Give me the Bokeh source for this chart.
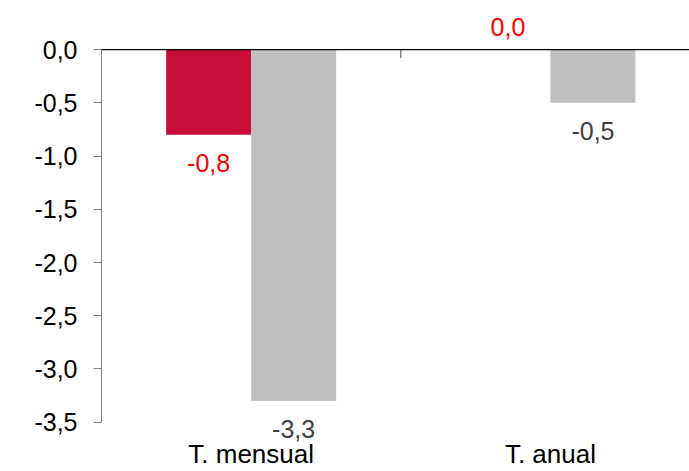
from bokeh.plotting import figure
from bokeh.models import Range1d, FixedTicker, Span, ColumnDataSource
from bokeh.embed import file_html
from bokeh.resources import INLINE
from bokeh.core.properties import value

categories = ["T. mensual", "T. anual"]
series_red = [-0.8, 0.0]
series_gray = [-3.3, -0.5]
y_ticks = [0.0, -0.5, -1.0, -1.5, -2.0, -2.5, -3.0, -3.5]

RED = "#C80D3A"
GRAY = "#BFBFBF"
FONT = "Liberation Sans"

def fmt(v):
    return f"{v:.1f}".replace(".", ",")

Y0, Y1 = -3.7095, 0.461
FRAME_H = 446
p = figure(width=689, height=471, output_backend="svg", toolbar_location=None,
           x_range=Range1d(0, 1.9646), y_range=Range1d(Y0, Y1),
           min_border_left=101, min_border_right=0, min_border_top=0, min_border_bottom=25)
p.outline_line_color = None
p.xgrid.visible = False
p.ygrid.visible = False
p.background_fill_color = "white"
p.border_fill_color = "white"

bar_w = 0.284
off = 0.142
xc = [i + 0.5 for i in range(len(categories))]
x_red = [x - off for x in xc]
x_gray = [x + off for x in xc]

p.vbar(x=x_red, top=series_red, bottom=0, width=bar_w, fill_color=RED, line_color=None)
p.vbar(x=x_gray, top=series_gray, bottom=0, width=bar_w, fill_color=GRAY, line_color=None)

# zero line and category separator ticks
p.add_layout(Span(location=0, dimension="width", line_color="#000000", line_width=1.3))
px_per_unit = FRAME_H / (Y1 - Y0)
sep = list(range(1, len(categories)))
p.segment(x0=sep, y0=[0] * len(sep), x1=sep, y1=[-8.5 / px_per_unit] * len(sep),
          line_color="#808080", line_width=1.5)

def labels(xs, vals, color):
    src = ColumnDataSource(dict(x=xs, y=vals, t=[fmt(v) for v in vals],
                                dy=[28 if v < 0 else -23 for v in vals]))
    p.text(x="x", y="y", text="t", y_offset="dy", source=src, text_align="center",
           text_baseline="middle", text_font=value(FONT), text_font_size="25px",
           text_color=color)

labels(x_red, series_red, "#FF0000")
labels(x_gray, series_gray, "#404040")

# y axis
ya = p.yaxis[0]
ya.bounds = (-3.5, 0)
ya.ticker = FixedTicker(ticks=y_ticks)
ya.major_label_overrides = {t: fmt(t) for t in y_ticks}
ya.axis_line_color = "#808080"
ya.major_tick_line_color = "#808080"
ya.major_tick_out = 8
ya.major_tick_in = 0
ya.minor_tick_line_color = None
ya.major_label_standoff = 16
ya.major_label_text_font = FONT
ya.major_label_text_font_size = "25px"
ya.major_label_text_color = "#000000"

# x axis (category labels)
xa = p.xaxis[0]
xa.ticker = FixedTicker(ticks=xc)
xa.major_label_overrides = {x: c for x, c in zip(xc, categories)}
xa.axis_line_color = None
xa.major_tick_line_color = None
xa.minor_tick_line_color = None
xa.major_tick_out = 0
xa.major_tick_in = 0
xa.major_label_standoff = -6
xa.major_label_text_font = FONT
xa.major_label_text_font_size = "26px"
xa.major_label_text_color = "#000000"

open("out.html", "w").write(file_html(p, INLINE))
